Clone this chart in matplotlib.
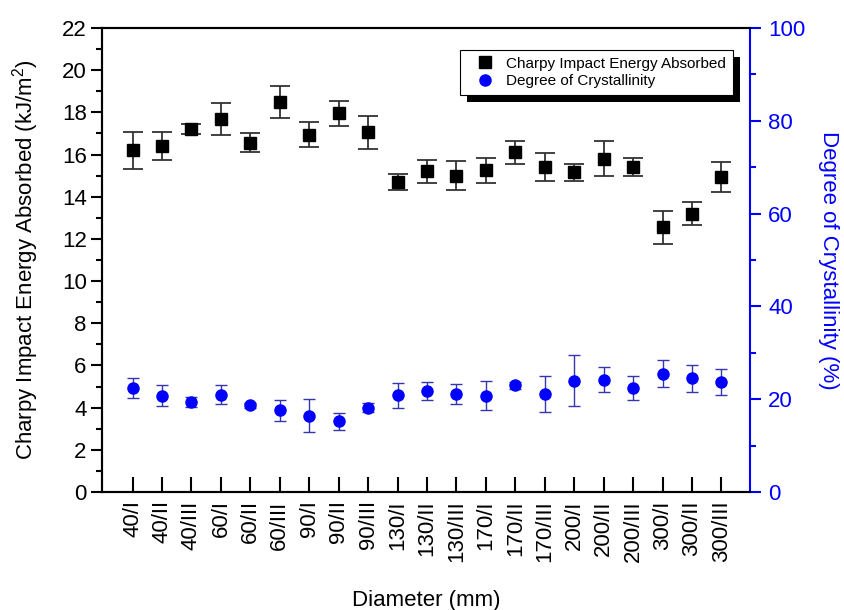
import numpy as np
import matplotlib
matplotlib.use('Agg')
import matplotlib.pyplot as plt
from matplotlib.lines import Line2D
from matplotlib.patches import Rectangle
from matplotlib.ticker import MultipleLocator

plt.rcParams['font.family'] = ['Liberation Sans', 'DejaVu Sans']
plt.rcParams['mathtext.default'] = 'regular'

# Sample labels (diameter / group)
labels = ['40/I', '40/II', '40/III', '60/I', '60/II', '60/III',
          '90/I', '90/II', '90/III', '130/I', '130/II', '130/III',
          '170/I', '170/II', '170/III', '200/I', '200/II', '200/III',
          '300/I', '300/II', '300/III']

# Charpy impact energy (kJ/m2) and its error
energy = [16.2, 16.4, 17.2, 17.7, 16.55, 18.5, 16.95, 17.95, 17.05, 14.7, 15.2,
          15.0, 15.25, 16.1, 15.4, 15.15, 15.8, 15.4, 12.55, 13.2, 14.95]
energy_err = [0.87, 0.65, 0.23, 0.75, 0.45, 0.75, 0.57, 0.58, 0.77, 0.4, 0.55,
              0.68, 0.6, 0.55, 0.66, 0.42, 0.83, 0.43, 0.78, 0.53, 0.71]

# Degree of crystallinity (%) and its error
cryst = [22.4, 20.8, 19.4, 21.0, 18.7, 17.6, 16.4, 15.2, 18.2, 20.9, 21.8,
         21.2, 20.8, 23.0, 21.1, 24.0, 24.2, 22.4, 25.5, 24.5, 23.7]
cryst_err = [2.2, 2.35, 1.0, 2.0, 0.5, 2.2, 3.55, 1.9, 1.0, 2.7, 1.95,
             2.15, 3.05, 0.8, 3.95, 5.5, 2.75, 2.5, 2.9, 2.95, 2.8]

legend_names = ['Charpy Impact Energy Absorbed', 'Degree of Crystallinity']

blue = '#0000ff'
x = np.arange(len(labels))

fig = plt.figure(figsize=(8.45, 6.1), dpi=100)
ax_w, ax_h = 0.7669, 0.7607
ax = fig.add_axes([0.1207, 0.1934, ax_w, ax_h])

# left axis: impact energy
ax.errorbar(x, energy, yerr=energy_err, fmt='s', color='black', ms=9,
            ecolor='#333333', elinewidth=1.3, capsize=7, capthick=1.3)
ax.set_xlim(-1.04, 20.97)
ax.set_ylim(0, 22)
ax.yaxis.set_major_locator(MultipleLocator(2))
ax.yaxis.set_minor_locator(MultipleLocator(1))
ax.set_xticks(x)
ax.set_xticklabels(labels, rotation=90)
ax.tick_params(axis='y', which='major', direction='out', length=8, width=1.5, labelsize=16, pad=3)
ax.tick_params(axis='y', which='minor', direction='out', length=4, width=1.5)
ax.tick_params(axis='x', direction='in', length=11, width=1.5, labelsize=16, pad=6)
for s in ax.spines.values():
    s.set_linewidth(1.5)
ax.spines['right'].set_visible(False)
ax.set_ylabel('Charpy Impact Energy Absorbed (kJ/m$^2$)', fontsize=16, labelpad=15)
ax.set_xlabel('Diameter (mm)', fontsize=16, labelpad=20)

# right axis: crystallinity
ax2 = ax.twinx()
ax2.errorbar(x, cryst, yerr=cryst_err, fmt='o', color=blue, ms=8,
             ecolor='#3535b0', elinewidth=1, capsize=4, capthick=1)
ax2.set_ylim(0, 100)
ax2.yaxis.set_major_locator(MultipleLocator(20))
ax2.yaxis.set_minor_locator(MultipleLocator(10))
ax2.tick_params(axis='y', which='major', direction='out', length=8, width=1.5,
                labelsize=16, colors=blue, pad=5)
ax2.tick_params(axis='y', which='minor', direction='out', length=4, width=1.5, colors=blue)
for s in ax2.spines.values():
    s.set_linewidth(1.5)
ax2.spines['right'].set_color(blue)
ax2.set_ylabel('Degree of Crystallinity (%)', fontsize=16, color=blue,
               rotation=270, labelpad=24)

# legend with a hard black drop shadow
handles = [Line2D([], [], marker='s', color='black', ls='none', ms=9),
           Line2D([], [], marker='o', color=blue, ls='none', ms=8)]
leg = ax2.legend(handles, legend_names, loc='upper right',
                 bbox_to_anchor=(0.9737, 0.9527), borderaxespad=0,
                 fancybox=False, framealpha=1, edgecolor='black',
                 fontsize=11, handlelength=2.4, handletextpad=0.2,
                 borderpad=0.45, labelspacing=0.2)
leg.get_frame().set_linewidth(0.8)

fig.canvas.draw()
bb = leg.get_window_extent().transformed(ax2.transAxes.inverted())
dx = 7.5 / (ax_w * 845)
dy = 7.5 / (ax_h * 610)
ax2.add_patch(Rectangle((bb.x0 + dx, bb.y0 - dy), bb.width, bb.height,
                        transform=ax2.transAxes, facecolor='black',
                        edgecolor='none', zorder=4, clip_on=False))

fig.savefig('out.png', dpi=100)
